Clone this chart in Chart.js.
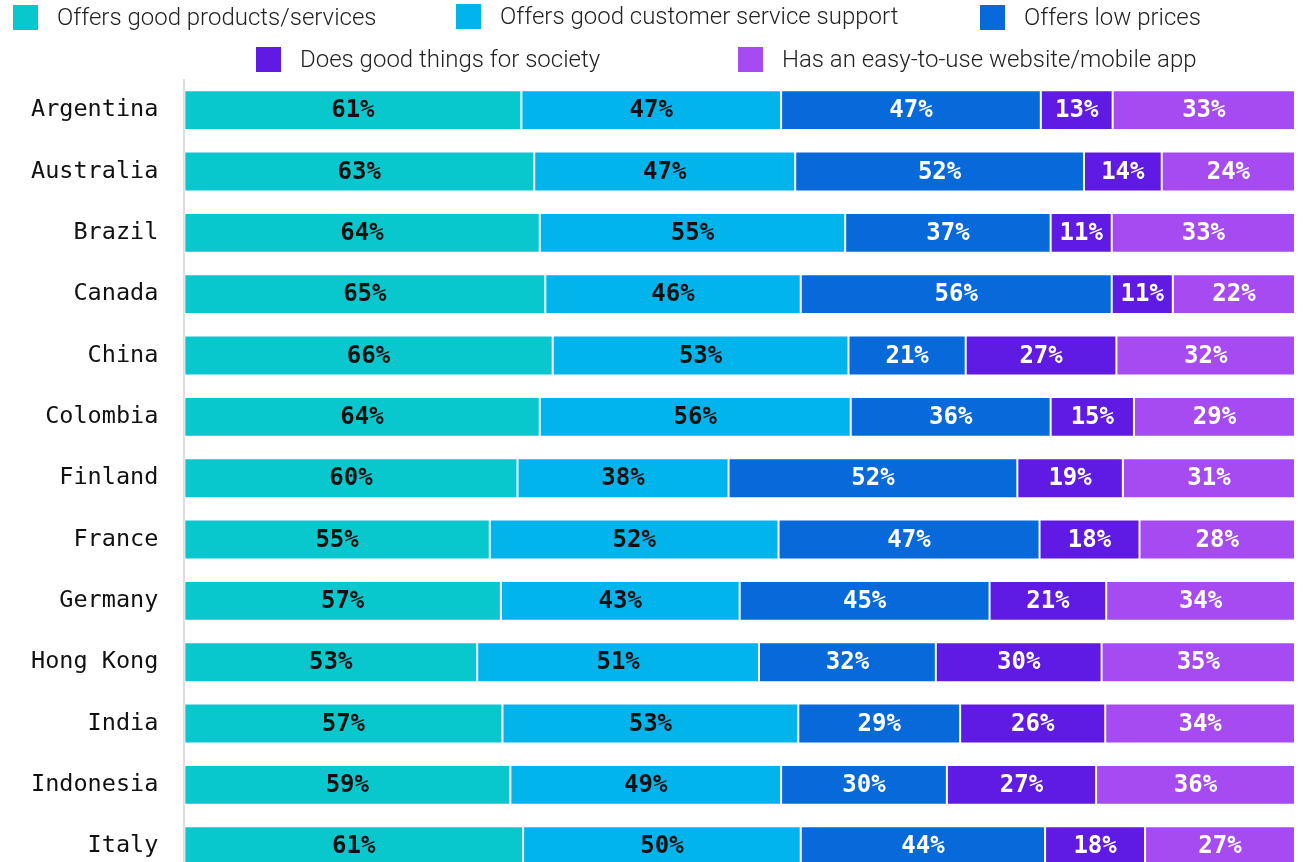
<!DOCTYPE html>
<html>
<head>
<meta charset="utf-8">
<script src="https://cdn.jsdelivr.net/npm/chart.js@4.4.1/dist/chart.umd.min.js"></script>
<style>
  html, body { margin: 0; padding: 0; background: #fff; overflow: hidden; }
</style>
</head>
<body>
<canvas id="chart" width="1303" height="917"></canvas>
<script>
const countries = ['Argentina', 'Australia', 'Brazil', 'Canada', 'China', 'Colombia', 'Finland',
    'France', 'Germany', 'Hong Kong', 'India', 'Indonesia', 'Italy'];

const seriesNames = ['Offers good products/services', 'Offers good customer service support',
    'Offers low prices', 'Does good things for society', 'Has an easy-to-use website/mobile app'];

const goodProducts = [61, 63, 64, 65, 66, 64, 60, 55, 57, 53, 57, 59, 61];
const goodService = [47, 47, 55, 46, 53, 56, 38, 52, 43, 51, 53, 49, 50];
const lowPrices = [47, 52, 37, 56, 21, 36, 52, 47, 45, 32, 29, 30, 44];
const goodSociety = [13, 14, 11, 11, 27, 15, 19, 18, 21, 30, 26, 27, 18];
const easyWebsite = [33, 24, 33, 22, 32, 29, 31, 28, 34, 35, 34, 36, 27];

const colors = ['#08C8CE', '#01B4EC', '#0869DB', '#5F1AE4', '#A64BF2'];
const labelColors = ['#111', '#111', '#fff', '#fff', '#fff'];

const allSeries = [goodProducts, goodService, lowPrices, goodSociety, easyWebsite];

// each row is stretched to the full width, so plot the share of the row total
const rowTotals = countries.map((c, i) => allSeries.reduce((s, arr) => s + arr[i], 0));

const datasets = allSeries.map((arr, k) => ({
    label: seriesNames[k],
    data: arr.map((v, i) => v / rowTotals[i] * 100),
    raw: arr,
    backgroundColor: colors[k],
    borderColor: 'rgba(255,255,255,0.75)',
    borderWidth: 1,
    borderSkipped: false,
    categoryPercentage: 1,
    barPercentage: 0.65
}));

// legend in two rows, placed like the original
const legendSpots = [[13, 5], [456, 4], [980, 5], [256, 47], [738, 47]];

const topLegend = {
    id: 'topLegend',
    afterDraw(chart) {
        const ctx = chart.ctx;
        ctx.save();
        ctx.font = '300 24px Roboto';
        ctx.textBaseline = 'middle';
        ctx.textAlign = 'left';
        chart.data.datasets.forEach((ds, k) => {
            const [x, y] = legendSpots[k];
            ctx.fillStyle = ds.backgroundColor;
            ctx.fillRect(x, y, 25, 25);
            ctx.fillStyle = '#222';
            ctx.fillText(ds.label, x + 44, y + 14);
        });
        ctx.restore();
    }
};

const barLabels = {
    id: 'barLabels',
    afterDatasetsDraw(chart) {
        const ctx = chart.ctx;
        ctx.save();
        ctx.font = 'bold 24px "DejaVu Sans Mono", monospace';
        ctx.textAlign = 'center';
        ctx.textBaseline = 'middle';
        chart.data.datasets.forEach((ds, k) => {
            const meta = chart.getDatasetMeta(k);
            meta.data.forEach((bar, i) => {
                ctx.fillStyle = labelColors[k];
                ctx.fillText(ds.raw[i] + '%', (bar.x + bar.base) / 2, bar.y + 1);
            });
        });
        ctx.restore();
    }
};

new Chart(document.getElementById('chart'), {
    type: 'bar',
    data: { labels: countries, datasets: datasets },
    plugins: [barLabels, topLegend],
    options: {
        indexAxis: 'y',
        responsive: false,
        animation: false,
        layout: { padding: { left: 5, right: 8, top: 79.5, bottom: 0 } },
        plugins: {
            tooltip: { enabled: false },
            legend: { display: false }
        },
        scales: {
            x: {
                stacked: true,
                min: 0,
                max: 100,
                display: false
            },
            y: {
                stacked: true,
                grid: { display: false, drawTicks: false },
                border: { display: true, color: '#dddddd', width: 2 },
                ticks: {
                    color: '#111',
                    padding: 26,
                    font: { family: '"DejaVu Sans Mono", monospace', size: 23.5 }
                }
            }
        }
    }
});
</script>
</body>
</html>
